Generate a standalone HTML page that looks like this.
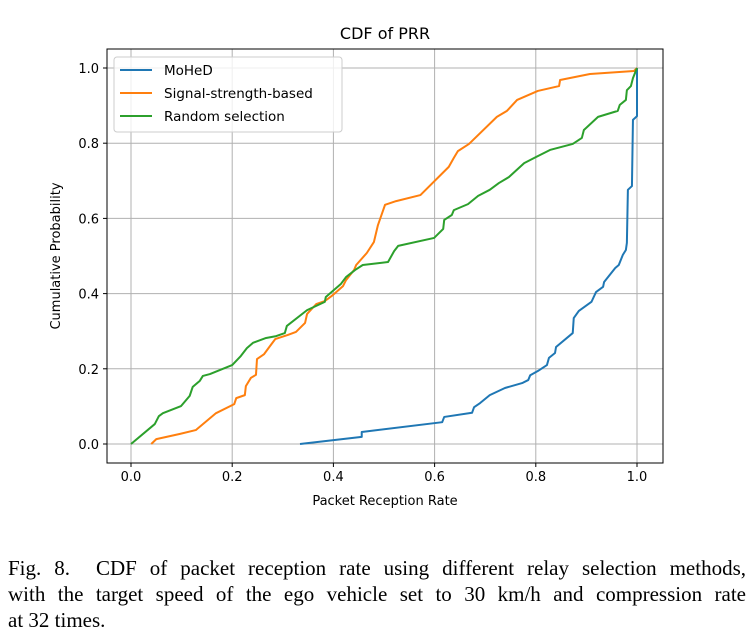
<!DOCTYPE html>
<html><head><meta charset="utf-8"><style>
body{margin:0;background:#fff;width:750px;height:636px;overflow:hidden}
svg text{font-family:"DejaVu Sans","Liberation Sans",sans-serif;fill:#000}
#cap{position:absolute;left:8px;top:555px;width:738px;font-family:"Liberation Serif",serif;font-size:21px;line-height:26px;color:#000}
#cap span{display:block;white-space:nowrap}
#cap span.j{text-align:justify;text-align-last:justify;white-space:normal;height:26px;overflow:visible}
</style></head><body>
<svg id="chart" width="750" height="545" style="position:absolute;left:0;top:0"></svg>
<div id="cap"><span class="j">Fig. 8.&nbsp; CDF of packet reception rate using different relay selection methods,</span><span class="j">with the target speed of the ego vehicle set to 30 km/h and compression rate</span><span>at 32 times.</span></div>
<script>
const xTicks=[0,0.2,0.4,0.6,0.8,1.0];
const yTicks=[0,0.2,0.4,0.6,0.8,1.0];
const mohedX=[0.334,0.456,0.456,0.615,0.619,0.674,0.678,0.69,0.709,0.739,0.773,0.785,0.789,0.804,0.822,0.826,0.838,0.84,0.873,0.875,0.885,0.91,0.919,0.933,0.935,0.957,0.964,0.972,0.978,0.98,0.982,0.99,0.992,1.0,1.0];
const mohedY=[0,0.019,0.032,0.058,0.072,0.083,0.098,0.109,0.13,0.149,0.162,0.17,0.183,0.194,0.21,0.229,0.242,0.258,0.295,0.335,0.354,0.378,0.404,0.418,0.431,0.468,0.476,0.503,0.516,0.535,0.676,0.686,0.862,0.872,1.0];
const signalX=[0.04,0.05,0.097,0.128,0.168,0.204,0.208,0.225,0.227,0.237,0.247,0.249,0.263,0.275,0.285,0.31,0.326,0.344,0.348,0.366,0.383,0.397,0.419,0.425,0.441,0.445,0.466,0.48,0.488,0.502,0.524,0.572,0.628,0.638,0.646,0.668,0.723,0.743,0.763,0.804,0.846,0.848,0.907,0.994,1.0];
const signalY=[0,0.013,0.027,0.037,0.082,0.106,0.122,0.13,0.154,0.176,0.184,0.226,0.239,0.261,0.279,0.29,0.298,0.322,0.346,0.372,0.38,0.394,0.42,0.436,0.463,0.476,0.508,0.537,0.582,0.636,0.646,0.662,0.737,0.761,0.779,0.798,0.87,0.886,0.915,0.939,0.952,0.968,0.984,0.992,1.0];
const randomX=[0,0.047,0.055,0.063,0.099,0.116,0.122,0.136,0.142,0.156,0.2,0.217,0.229,0.241,0.267,0.287,0.304,0.308,0.348,0.383,0.385,0.415,0.425,0.443,0.458,0.508,0.52,0.528,0.599,0.617,0.619,0.634,0.638,0.666,0.686,0.709,0.727,0.747,0.777,0.8,0.828,0.873,0.891,0.895,0.923,0.962,0.966,0.978,0.98,0.988,0.992,1.0];
const randomY=[0,0.053,0.074,0.082,0.101,0.128,0.152,0.168,0.181,0.186,0.21,0.234,0.255,0.269,0.282,0.287,0.295,0.314,0.356,0.378,0.391,0.426,0.444,0.463,0.476,0.484,0.513,0.527,0.548,0.572,0.596,0.609,0.622,0.638,0.66,0.676,0.694,0.71,0.747,0.763,0.782,0.798,0.814,0.835,0.87,0.886,0.902,0.915,0.941,0.952,0.973,1.0];
const X=v=>131+v*506, Y=v=>444-v*376;
const svg=document.getElementById('chart'),NS='http://www.w3.org/2000/svg';
function mk(t,a,txt){const e=document.createElementNS(NS,t);for(const k in a)e.setAttribute(k,a[k]);if(txt!=null)e.textContent=txt;svg.appendChild(e);return e;}
const L=107,R=663,T=49,B=463;
xTicks.forEach(v=>{
 let g=mk('line',{x1:X(v),x2:X(v),y1:T,y2:B,stroke:'#b0b0b0','stroke-width':1});
 
 
 mk('line',{x1:X(v),x2:X(v),y1:B,y2:B+4,stroke:'#000'});
 let t=mk('text',{x:X(v),y:B+18,'text-anchor':'middle','font-size':13},v.toFixed(1));
 
 
});
yTicks.forEach(v=>{
 let g=mk('line',{x1:L,x2:R,y1:Y(v),y2:Y(v),stroke:'#b0b0b0','stroke-width':1});
 
 
 mk('line',{x1:L-4,x2:L,y1:Y(v),y2:Y(v),stroke:'#000'});
 let t=mk('text',{x:L-8,y:Y(v)+5,'text-anchor':'end','font-size':13},v.toFixed(1));
 
 
});
function series(xs,ys,c,name){
 const p=mk('polyline',{points:xs.map((x,i)=>X(x)+','+Y(ys[i])).join(' '),fill:'none',stroke:c,'stroke-width':2,'stroke-linejoin':'round'});
 
 
}
series(mohedX,mohedY,'#1f77b4','mohed-line');
series(signalX,signalY,'#ff7f0e','signal-strength-line');
series(randomX,randomY,'#2ca02c','random-selection-line');
const fr=mk('rect',{x:L,y:T,width:R-L,height:B-T,fill:'none',stroke:'#000','stroke-width':1});


const ttl=mk('text',{x:385,y:39,'text-anchor':'middle','font-size':16},'CDF of PRR');


const xl=mk('text',{x:385,y:505,'text-anchor':'middle','font-size':13},'Packet Reception Rate');


const yl=mk('text',{x:60,y:256,'text-anchor':'middle','font-size':13,transform:'rotate(-90 60 256)'},'Cumulative Probability');


const lg=mk('rect',{x:114,y:57,width:228,height:75,fill:'#fff','fill-opacity':0.8,stroke:'#ccc',rx:3});


[['MoHeD','#1f77b4',70],['Signal-strength-based','#ff7f0e',93],['Random selection','#2ca02c',116]].forEach(([n,c,y])=>{
 mk('line',{x1:120,x2:152,y1:y,y2:y,stroke:c,'stroke-width':2});
 const t=mk('text',{x:164,y:y+5,'font-size':13.5},n);
 
 
});
</script>
</body></html>
